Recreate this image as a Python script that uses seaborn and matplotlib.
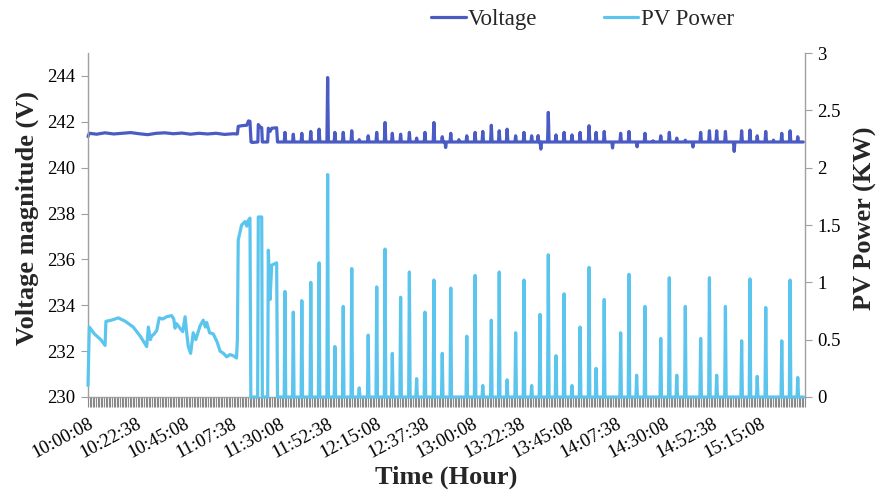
import matplotlib
matplotlib.use("Agg")
import matplotlib.pyplot as plt
from matplotlib.ticker import MultipleLocator
from matplotlib.lines import Line2D
from matplotlib.transforms import ScaledTranslation
import pandas as pd
import seaborn as sns

# Time axis: minutes elapsed since 10:00:08, one reading every 45 s
tick_minutes = [0, 22.5, 45, 67.5, 90, 112.5, 135, 157.5, 180, 202.5,
                225, 247.5, 270, 292.5, 315]
tick_labels = ["10:00:08", "10:22:38", "10:45:08", "11:07:38", "11:30:08",
               "11:52:38", "12:15:08", "12:37:38", "13:00:08", "13:22:38",
               "13:45:08", "14:07:38", "14:30:08", "14:52:38", "15:15:08"]
x_end = 336.0      # 15:36:08
series_end = 335.2

# PV power (kW) while the array runs continuously in the morning
pv_morning_min = [0.0, 0.6, 3.0, 6.0, 8.0, 8.4, 11.0, 14.2, 17.5, 21.2, 24.5,
                  27.5, 28.3, 29.2, 29.8, 31.0, 32.2, 33.4, 35.0, 36.9, 39.2,
                  40.2, 40.8, 41.5, 43.1, 44.4, 45.5, 46.3, 47.0, 48.1, 49.3,
                  50.5, 52.5, 54.0, 55.0, 55.6, 57.0, 58.7, 60.5, 61.9, 63.5,
                  65.0, 66.5, 68.1, 69.6, 70.0, 70.4, 72.0, 73.6, 74.4, 75.1,
                  75.9, 76.3, 79.5, 79.8, 81.4, 81.7, 84.2, 84.5, 85.3, 86.1,
                  88.4, 88.8]
pv_morning_kw = [0.10, 0.61, 0.55, 0.50, 0.45, 0.66, 0.67, 0.69, 0.66, 0.61,
                 0.53, 0.44, 0.61, 0.50, 0.53, 0.55, 0.58, 0.69, 0.68, 0.70,
                 0.71, 0.68, 0.60, 0.64, 0.60, 0.57, 0.70, 0.55, 0.44, 0.38,
                 0.56, 0.50, 0.62, 0.67, 0.61, 0.65, 0.56, 0.55, 0.48, 0.40,
                 0.38, 0.35, 0.37, 0.36, 0.34, 0.50, 1.37, 1.50, 1.53, 1.49,
                 1.54, 1.56, 0.0, 0.0, 1.57, 1.57, 0.0, 0.0, 1.28, 0.85,
                 1.15, 1.17, 0.0]

# PV bursts after 11:30 (minute, kW); output is 0 kW between bursts
pv_burst_min = [92.3, 96.2, 100.2, 104.4, 108.3, 112.3, 115.7, 119.6, 123.6,
                127.1, 131.3, 135.3, 139.2, 142.6, 146.5, 150.6, 154.0, 157.9,
                162.1, 166.0, 170.0, 177.5, 181.4, 185.0, 189.0, 192.7, 196.4,
                200.4, 204.3, 207.9, 211.8, 215.7, 219.3, 223.1, 226.8, 230.6,
                234.8, 238.1, 241.9, 249.6, 253.5, 257.1, 261.0, 268.4, 272.4,
                275.9, 279.9, 287.1, 291.2, 294.6, 298.7, 306.3, 310.2, 313.6,
                317.6, 325.1, 329.0, 332.6]
pv_burst_kw = [0.92, 0.74, 0.84, 1.00, 1.17, 1.94, 0.44, 0.79, 1.12, 0.08,
               0.54, 0.96, 1.29, 0.38, 0.87, 1.09, 0.16, 0.74, 1.02, 0.38,
               0.95, 0.53, 1.06, 0.10, 0.67, 1.09, 0.15, 0.56, 1.02, 0.10,
               0.72, 1.24, 0.36, 0.90, 0.10, 0.61, 1.13, 0.25, 0.85, 0.56,
               1.07, 0.19, 0.79, 0.51, 1.04, 0.19, 0.79, 0.51, 1.04, 0.19,
               0.79, 0.49, 1.03, 0.18, 0.78, 0.49, 1.02, 0.17]

# Voltage (V) in the morning
volt_morning_min = [0.0, 0.6, 4.0, 8.0, 12.0, 16.0, 20.0, 24.0, 28.0, 32.0,
                    36.0, 40.0, 44.0, 48.0, 52.0, 56.0, 60.0, 64.0, 68.0, 70.0,
                    70.4, 72.0, 74.4, 75.2, 75.9, 76.4, 77.0, 79.6, 79.8, 80.6,
                    81.4, 81.7, 84.2, 84.5, 85.3, 86.1, 88.4, 88.8]
volt_morning_v = [241.36, 241.50, 241.46, 241.52, 241.47, 241.50, 241.53,
                  241.48, 241.44, 241.50, 241.52, 241.48, 241.51, 241.46,
                  241.50, 241.47, 241.50, 241.45, 241.48, 241.47, 241.80,
                  241.83, 241.85, 242.04, 242.02, 241.12, 241.10, 241.12,
                  241.88, 241.78, 241.74, 241.12, 241.12, 241.72, 241.58,
                  241.72, 241.74, 241.12]

# Voltage excursions in the afternoon (minute, V) around a 241.12 V level
volt_base = 241.12
volt_event_min = [92.3, 96.2, 100.2, 104.4, 108.3, 112.3, 115.7, 119.6, 123.6,
                  127.1, 131.3, 135.3, 139.2, 142.6, 146.5, 150.6, 154.0,
                  157.9, 162.1, 166.0, 167.6, 170.0, 173.8, 177.5, 181.4,
                  185.0, 189.0, 192.7, 196.4, 200.4, 204.3, 207.9, 210.9,
                  212.2, 215.7, 219.3, 223.1, 226.8, 230.6, 234.8, 238.1,
                  241.9, 245.8, 249.6, 253.5, 257.3, 261.0, 264.8, 268.4,
                  272.4, 275.9, 279.9, 283.5, 287.1, 291.2, 294.6, 298.7,
                  302.8, 306.3, 310.2, 313.6, 317.6, 321.2, 325.1, 329.0,
                  332.6]
volt_event_v = [241.54, 241.46, 241.50, 241.58, 241.68, 243.93, 241.54,
                241.54, 241.61, 241.22, 241.39, 241.54, 241.97, 241.50,
                241.46, 241.54, 241.29, 241.54, 241.97, 241.35, 240.88,
                241.50, 241.22, 241.39, 241.54, 241.58, 241.85, 241.61,
                241.68, 241.39, 241.54, 241.39, 241.40, 240.81, 242.41,
                241.43, 241.54, 241.43, 241.54, 241.83, 241.54, 241.58,
                240.86, 241.50, 241.58, 240.91, 241.50, 241.17, 241.39,
                241.54, 241.29, 241.20, 240.90, 241.54, 241.61, 241.61,
                241.58, 240.71, 241.61, 241.64, 241.39, 241.58, 241.20,
                241.50, 241.61, 241.35]


def with_events(start_min, start_val, times, values, level, half_width, end):
    """Join a measured segment with short excursions from a resting level."""
    xs, ys = list(start_min), list(start_val)
    for t, v in zip(times, values):
        xs += [t - half_width, t, t + half_width]
        ys += [level, v, level]
    xs.append(end)
    ys.append(level)
    return pd.DataFrame({"minute": xs, "value": ys})


pv_df = with_events(pv_morning_min, pv_morning_kw, pv_burst_min, pv_burst_kw,
                    0.0, 0.35, series_end)
volt_df = with_events(volt_morning_min, volt_morning_v, volt_event_min,
                      volt_event_v, volt_base, 0.35, series_end)

sns.set_theme(style="white")
plt.rcParams["font.family"] = ["Liberation Serif", "DejaVu Serif"]

volt_color = "#4A5BC4"
pv_color = "#5CC5EE"
axis_gray = "#A0A0A0"

fig = plt.figure(figsize=(8.8, 4.9), dpi=100)
ax = fig.add_axes([0.1, 0.1898, 0.8148, 0.7020])
ax2 = ax.twinx()

sns.lineplot(data=volt_df, x="minute", y="value", ax=ax, color=volt_color,
             linewidth=2.3, estimator=None, sort=False)
sns.lineplot(data=pv_df, x="minute", y="value", ax=ax2, color=pv_color,
             linewidth=2.3, estimator=None, sort=False)
for line in ax.lines + ax2.lines:
    line.set_clip_on(False)
    line.set_solid_joinstyle("round")

ax.set_xlim(0, x_end)
ax.set_ylim(230, 245)
ax2.set_ylim(0, 3)

ax.set_yticks(list(range(230, 246, 2)))
ax2.set_yticks([0, 0.5, 1, 1.5, 2, 2.5, 3])
ax2.set_yticklabels(["0", "0.5", "1", "1.5", "2", "2.5", "3"])

ax.set_xticks(tick_minutes)
ax.set_xticklabels(tick_labels, rotation=28, ha="right",
                   rotation_mode="anchor")
ax.xaxis.set_minor_locator(MultipleLocator(0.75))
shift = ScaledTranslation(-4 / 100, 0, fig.dpi_scale_trans)
for lbl in ax.get_xticklabels():
    lbl.set_transform(lbl.get_transform() + shift)

ax.tick_params(axis="x", which="both", bottom=True, direction="out",
               length=7, width=0.8, color="#8A8A8A", labelsize=13.5,
               pad=6, labelcolor="black")
ax.tick_params(axis="y", left=True, direction="out", length=5, width=0.8,
               color=axis_gray, labelsize=13.5, pad=4, labelcolor="black")
ax2.tick_params(axis="y", right=True, direction="out", length=5, width=0.8,
                color=axis_gray, labelsize=13.5, pad=4, labelcolor="black")

ax.set_xlabel("")
ax.set_ylabel("")
ax2.set_ylabel("")

for name, sp in ax.spines.items():
    sp.set_visible(name in ("left", "bottom"))
    sp.set_color(axis_gray)
    sp.set_linewidth(1.0)
for name, sp in ax2.spines.items():
    sp.set_visible(name == "right")
    sp.set_color(axis_gray)
    sp.set_linewidth(1.0)

fig.text(0.031, 0.555, "Voltage magnitude (V)", rotation=90, ha="center",
         va="center", fontsize=19, fontweight="bold")
fig.text(0.984, 0.555, "PV Power (KW)", rotation=90, ha="center",
         va="center", fontsize=19, fontweight="bold")
fig.text(0.507, 0.025, "Time (Hour)", ha="center", va="center",
         fontsize=19, fontweight="bold")

handles = [Line2D([], [], color=volt_color, linewidth=2.3),
           Line2D([], [], color=pv_color, linewidth=2.3)]
fig.legend(handles, ["Voltage", "PV Power"], loc="center",
           bbox_to_anchor=(0.662, 0.961), ncol=2, frameon=False,
           handlelength=1.5, handletextpad=0.1, columnspacing=2.9,
           fontsize=16.5)

fig.savefig("out.png", dpi=100)
